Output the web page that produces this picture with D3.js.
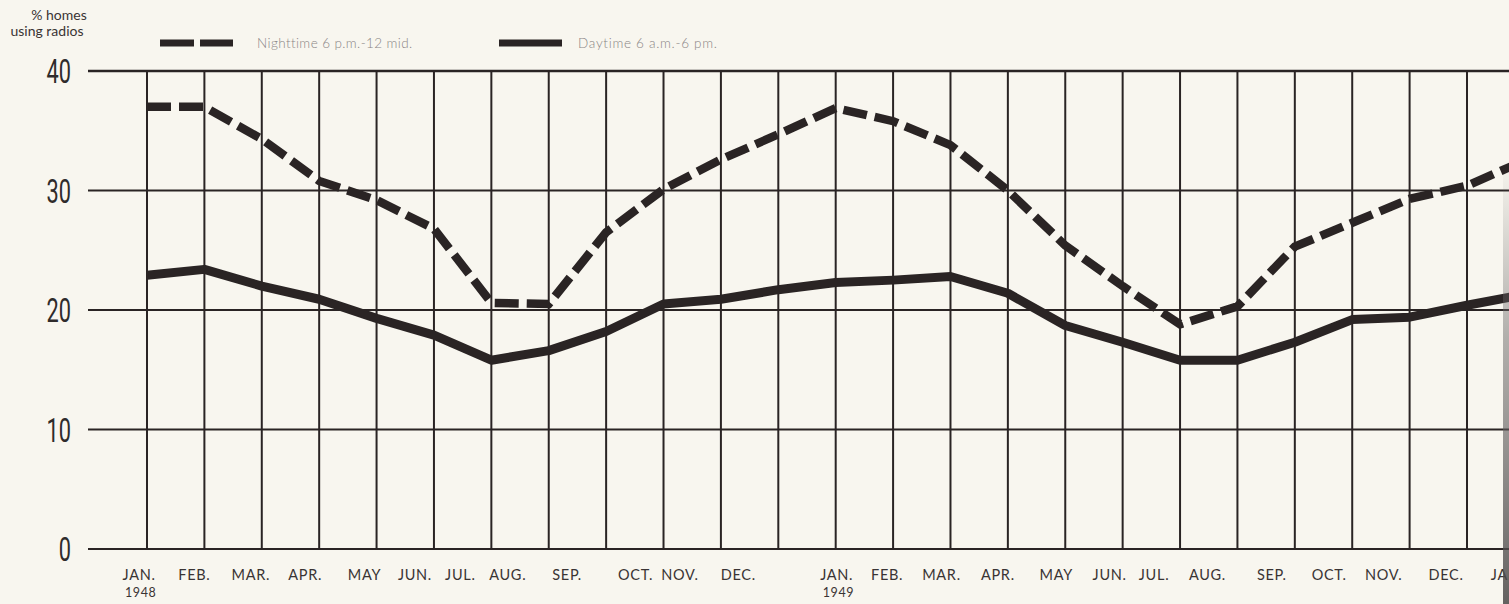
<!DOCTYPE html>
<html>
<head>
<meta charset="utf-8">
<script src="https://cdn.jsdelivr.net/npm/d3@7"></script>
<style>
  html, body { margin: 0; padding: 0; background: #f8f6ef; }
  svg { display: block; }
</style>
</head>
<body>
<svg id="chart" width="1509" height="604"></svg>
<script>
// Monthly share of homes using radios, Jan 1948 – Jan 1950
const months = ["JAN.", "FEB.", "MAR.", "APR.", "MAY", "JUN.", "JUL.", "AUG.", "SEP.", "OCT.", "NOV.", "DEC.",
                "JAN.", "FEB.", "MAR.", "APR.", "MAY", "JUN.", "JUL.", "AUG.", "SEP.", "OCT.", "NOV.", "DEC.", "JAN."];
const yearLabels = [{ index: 0, text: "1948" }, { index: 12, text: "1949" }];
const nighttime = [37.0, 37.0, 34.3, 30.8, 29.2, 26.8, 20.6, 20.5, 26.5, 30.1, 32.6, 34.7,
                   36.9, 35.8, 33.8, 30.0, 25.4, 22.0, 18.8, 20.3, 25.3, 27.3, 29.3, 30.4, 32.5];
const daytime   = [22.9, 23.4, 22.0, 20.9, 19.3, 17.9, 15.8, 16.6, 18.2, 20.5, 20.9, 21.7,
                   22.3, 22.5, 22.8, 21.4, 18.7, 17.3, 15.8, 15.8, 17.3, 19.2, 19.4, 20.4, 21.3];
const yTicks = [0, 10, 20, 30, 40];

const ink = "#2a2424";
const svg = d3.select("#chart");
const W = 1509, H = 604;

const x = d3.scaleLinear().domain([0, 23]).range([147, 1467]);
const y = d3.scaleLinear().domain([0, 40]).range([549, 71]);
const gridLeft = 88;

// horizontal grid lines with the value labels
const gy = svg.append("g");
gy.selectAll("line.h").data(yTicks).join("line")
  .attr("x1", gridLeft).attr("x2", W + 5)
  .attr("y1", d => y(d)).attr("y2", d => y(d))
  .attr("stroke", ink).attr("stroke-width", d => d === 40 ? 2.6 : 2);

gy.selectAll("text.ylab").data(yTicks).join("text")
  .attr("class", "ylab")
  .attr("transform", d => `translate(71,${y(d) + 12}) scale(0.64,1)`)
  .attr("text-anchor", "end")
  .attr("font-family", "Roboto, 'Liberation Sans', sans-serif")
  .attr("font-size", 34)
  .attr("fill", "#2f2b2b")
  .text(d => d);

// vertical month lines
const monthIdx = d3.range(0, months.length);
svg.append("g").selectAll("line").data(monthIdx).join("line")
  .attr("x1", d => x(d)).attr("x2", d => x(d))
  .attr("y1", y(40)).attr("y2", y(0))
  .attr("stroke", ink).attr("stroke-width", 2);

// month labels
const labelOffset = [-8, -10, -11, -14, -12, -19, -31, -41, -39, -28, -41, -40,
                     1, -6, -9, -10, -9, -13, -26, -30, -23, -23, -26, -21, -17];
svg.append("g").selectAll("text").data(monthIdx).join("text")
  .attr("x", d => x(d) + labelOffset[d])
  .attr("y", 580)
  .attr("text-anchor", "middle")
  .attr("font-family", "Lato, 'Noto Sans', sans-serif")
  .attr("font-size", 14.5)
  .attr("letter-spacing", 0.7)
  .attr("fill", "#3a3434")
  .text(d => months[d]);

svg.append("g").selectAll("text").data(yearLabels).join("text")
  .attr("x", d => x(d.index) + labelOffset[d.index] - 14)
  .attr("y", 597)
  .attr("font-family", "Lato, 'Noto Sans', sans-serif")
  .attr("font-size", 12.5)
  .attr("letter-spacing", 0.6)
  .attr("fill", "#3a3434")
  .text(d => d.text);

// data lines
const line = d3.line()
  .x((d, i) => x(i))
  .y(d => y(d))
  .curve(d3.curveLinear);

svg.append("path").datum(daytime)
  .attr("d", line)
  .attr("fill", "none")
  .attr("stroke", ink)
  .attr("stroke-width", 9)
  .attr("stroke-linejoin", "round");

svg.append("path").datum(nighttime)
  .attr("d", line)
  .attr("fill", "none")
  .attr("stroke", ink)
  .attr("stroke-width", 8.5)
  .attr("stroke-dasharray", "24 8");

// axis title
const title = svg.append("g")
  .attr("font-family", "Lato, 'Noto Sans', sans-serif")
  .attr("font-size", 14)
  .attr("fill", "#3a3434")
  .attr("text-anchor", "middle");
title.append("text").attr("x", 59).attr("y", 20).text("% homes");
title.append("text").attr("x", 47).attr("y", 36).text("using radios");

// legend
const legend = svg.append("g");
legend.append("line")
  .attr("x1", 160).attr("x2", 233).attr("y1", 43).attr("y2", 43)
  .attr("stroke", ink).attr("stroke-width", 7)
  .attr("stroke-dasharray", "34 6");
legend.append("text")
  .attr("x", 257).attr("y", 48)
  .attr("font-family", "Lato, 'Noto Sans', sans-serif")
  .attr("font-weight", 300)
  .attr("font-size", 13.5)
  .attr("letter-spacing", 0.4)
  .attr("fill", "#8a8585")
  .text("Nighttime 6 p.m.-12 mid.");
legend.append("line")
  .attr("x1", 499).attr("x2", 562).attr("y1", 43).attr("y2", 43)
  .attr("stroke", ink).attr("stroke-width", 7);
legend.append("text")
  .attr("x", 578).attr("y", 48)
  .attr("font-family", "Lato, 'Noto Sans', sans-serif")
  .attr("font-weight", 300)
  .attr("font-size", 13.5)
  .attr("letter-spacing", 0.7)
  .attr("fill", "#8a8585")
  .text("Daytime 6 a.m.-6 pm.");

// shadow along the right margin
const defs = svg.append("defs");
const grad = defs.append("linearGradient").attr("id", "edge")
  .attr("x1", 0).attr("y1", 0).attr("x2", 0).attr("y2", 1);
grad.append("stop").attr("offset", "0%").attr("stop-color", "#6b6868").attr("stop-opacity", 0);
grad.append("stop").attr("offset", "40%").attr("stop-color", "#6b6868").attr("stop-opacity", 0.5);
grad.append("stop").attr("offset", "100%").attr("stop-color", "#4a4747").attr("stop-opacity", 0.85);
svg.append("rect")
  .attr("x", 1503).attr("y", 160).attr("width", 6).attr("height", H - 160)
  .attr("fill", "url(#edge)");
</script>
</body>
</html>
